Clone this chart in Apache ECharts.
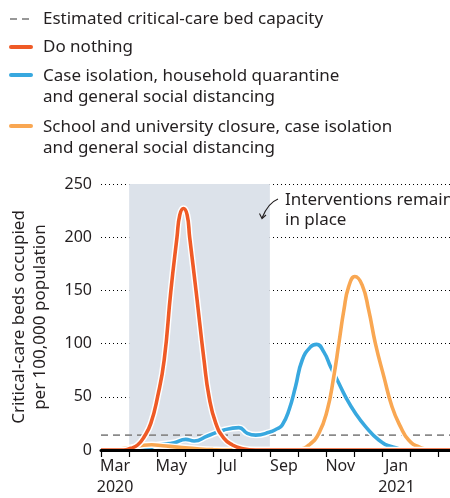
<!DOCTYPE html>
<html>
<head>
<meta charset="utf-8">
<script src="https://cdn.jsdelivr.net/npm/echarts@6/dist/echarts.min.js"></script>
<style>html,body{margin:0;padding:0;background:#fff}#chart{width:450px;height:498px}</style>
</head>
<body>
<div id="chart"></div>
<script>
// x values are months since 1 March 2020
const yTicks = [0, 50, 100, 150, 200, 250];
const monthTickValues = [0,1,2,3,4,5,6,7,8,9,10,11,12];
const monthLabelValues = [0.5, 2.5, 4.5, 6.5, 8.5, 10.5];
const monthLabels = ['Mar\n2020', 'May', 'Jul', 'Sep', 'Nov', 'Jan\n2021'];

const capacityValue = 14;
const interventionStart = 1;  // 1 April 2020
const interventionEnd = 6;    // 1 September 2020

const doNothingX = [0, 0.8, 1.06, 1.30, 1.535, 1.77, 2.01, 2.245, 2.48, 2.70, 2.80, 2.93, 3.06, 3.15, 3.38, 3.66, 3.84, 4.08, 4.37, 4.67, 5.0, 5.5, 12.4];
const doNothingY = [0, 0, 1.6, 4.7, 12.5, 25, 50, 84.6, 149, 200, 221, 227, 221, 200, 149, 84.6, 50, 25, 11, 4.7, 1.5, 0, 0];

const caseIsoX = [0, 1.5, 2.01, 2.6, 3.01, 3.31, 3.78, 4.37, 4.9, 5.2, 5.5, 5.97, 6.26, 6.44, 6.68, 6.91, 7.15, 7.45, 7.66, 7.92, 8.16, 8.39, 8.69, 9.04, 9.40, 9.87, 10.34, 11.05, 12.4];
const caseIsoY = [0, 0, 4.7, 6.9, 10, 8.5, 13.2, 18.8, 21, 15.7, 14, 16.6, 20, 23.5, 37.6, 59.5, 84.6, 97, 99.3, 92, 78, 66, 50, 34.5, 22, 9.4, 3, 0, 0];

const schoolX = [0, 0.5, 1.0, 1.5, 1.8, 2.2, 2.8, 3.5, 4.0, 4.5, 6.8, 7.03, 7.39, 7.74, 8.04, 8.27, 8.45, 8.63, 8.80, 9.02, 9.28, 9.51, 9.75, 10.05, 10.34, 10.64, 10.93, 11.29, 11.88, 12.4];
const schoolY = [0.3, 0.8, 2, 4.5, 5, 4, 2.5, 1, 0.3, 0, 0, 0.5, 4.7, 15.7, 37.6, 69, 100, 131.6, 153.5, 163, 155, 131.6, 100, 69, 40.7, 22, 9.4, 3, 0, 0];

const zip = (xs, ys) => xs.map((x, i) => [x, ys[i]]);

const RED = '#ef5a26', BLUE = '#38a8df', ORANGE = '#f9a752';
const TXT = '#231f20';
const FONT = 'Noto Sans';
const BIG = '17px "Noto Sans"';

function curve(name, data, color, z) {
  return [
    { type: 'line', name: name + '-halo', data, z, silent: true, symbol: 'none',
      smooth: 0.5, lineStyle: { color: '#ffffff', width: 6.5 } },
    { type: 'line', name, data, z, symbol: 'none',
      smooth: 0.5, lineStyle: { color, width: 3.6 } }
  ];
}

const chart = echarts.init(document.getElementById('chart'), null, { renderer: 'canvas' });
chart.setOption({
  animation: false,
  backgroundColor: '#fff',
  textStyle: { fontFamily: FONT, color: TXT },
  grid: { left: 101, right: 0, top: 184, bottom: 48, containLabel: false },
  xAxis: {
    type: 'value', min: 0, max: 12.4, z: 5,
    axisLine: { show: true, lineStyle: { color: '#000', width: 3 } },
    axisTick: { show: true, customValues: monthTickValues, length: 7, lineStyle: { color: '#000', width: 1.2 } },
    axisLabel: {
      customValues: monthLabelValues,
      formatter: v => { const i = monthLabelValues.indexOf(v); return i >= 0 ? monthLabels[i] : ''; },
      color: TXT, fontSize: 16, fontFamily: FONT, lineHeight: 21, margin: 6
    },
    splitLine: { show: false }
  },
  yAxis: {
    type: 'value', min: 0, max: 250, interval: 50, z: 1,
    axisLine: { show: false }, axisTick: { show: false },
    axisLabel: { color: TXT, fontSize: 16, fontFamily: FONT, margin: 9 },
    splitLine: { show: true, lineStyle: { color: '#000', type: [1, 3], width: 1 } },
    name: 'Critical-care beds occupied\nper 100,000 population',
    nameLocation: 'middle', nameRotate: 90, nameGap: 50,
    nameTextStyle: { color: TXT, fontSize: 17, fontFamily: FONT, lineHeight: 21 }
  },
  series: [
    { type: 'line', name: 'shade', data: [], z: 0, silent: true,
      markArea: { silent: true, itemStyle: { color: '#dce2ea' },
        data: [[{ xAxis: interventionStart, yAxis: 0 }, { xAxis: interventionEnd, yAxis: 250 }]] } },
    { type: 'line', name: 'Estimated critical-care bed capacity', z: 1.5, symbol: 'none', silent: true,
      data: [[0, capacityValue], [12.4, capacityValue]],
      lineStyle: { color: '#8a8a8a', width: 1.6, type: [7, 5] } },
    ...curve('Case isolation, household quarantine and general social distancing', zip(caseIsoX, caseIsoY), BLUE, 2),
    ...curve('School and university closure, case isolation and general social distancing', zip(schoolX, schoolY), ORANGE, 3),
    ...curve('Do nothing', zip(doNothingX, doNothingY), RED, 4)
  ],
  graphic: [
    { type: 'line', shape: { x1: 10, y1: 19, x2: 32, y2: 19 }, style: { stroke: '#777', lineWidth: 1.5, lineDash: [7, 5] } },
    { type: 'text', x: 43, y: 19, style: { text: 'Estimated critical-care bed capacity', font: BIG, fill: TXT, textVerticalAlign: 'middle' } },
    { type: 'line', shape: { x1: 11, y1: 47, x2: 31, y2: 47 }, style: { stroke: RED, lineWidth: 4, lineCap: 'round' } },
    { type: 'text', x: 43, y: 47, style: { text: 'Do nothing', font: BIG, fill: TXT, textVerticalAlign: 'middle' } },
    { type: 'line', shape: { x1: 11, y1: 75, x2: 31, y2: 75 }, style: { stroke: BLUE, lineWidth: 4, lineCap: 'round' } },
    { type: 'text', x: 43, y: 65.5, style: { text: 'Case isolation, household quarantine\nand general social distancing', font: BIG, lineHeight: 21, fill: TXT } },
    { type: 'line', shape: { x1: 11, y1: 126, x2: 31, y2: 126 }, style: { stroke: ORANGE, lineWidth: 4, lineCap: 'round' } },
    { type: 'text', x: 43, y: 116.5, style: { text: 'School and university closure, case isolation\nand general social distancing', font: BIG, lineHeight: 21, fill: TXT } },
    { type: 'text', x: 285, y: 190, z: 10, style: { text: 'Interventions remain\nin place', font: BIG, lineHeight: 20, fill: TXT } },
    { type: 'bezierCurve', z: 10, shape: { x1: 278, y1: 199, cpx1: 268, cpy1: 203, x2: 262, y2: 218 }, style: { stroke: TXT, lineWidth: 1.1, fill: null } },
    { type: 'polyline', z: 10, shape: { points: [[259.5, 213.5], [262, 218.5], [266, 215]] }, style: { stroke: TXT, lineWidth: 1.1, fill: null } }
  ]
});
</script>
</body>
</html>
